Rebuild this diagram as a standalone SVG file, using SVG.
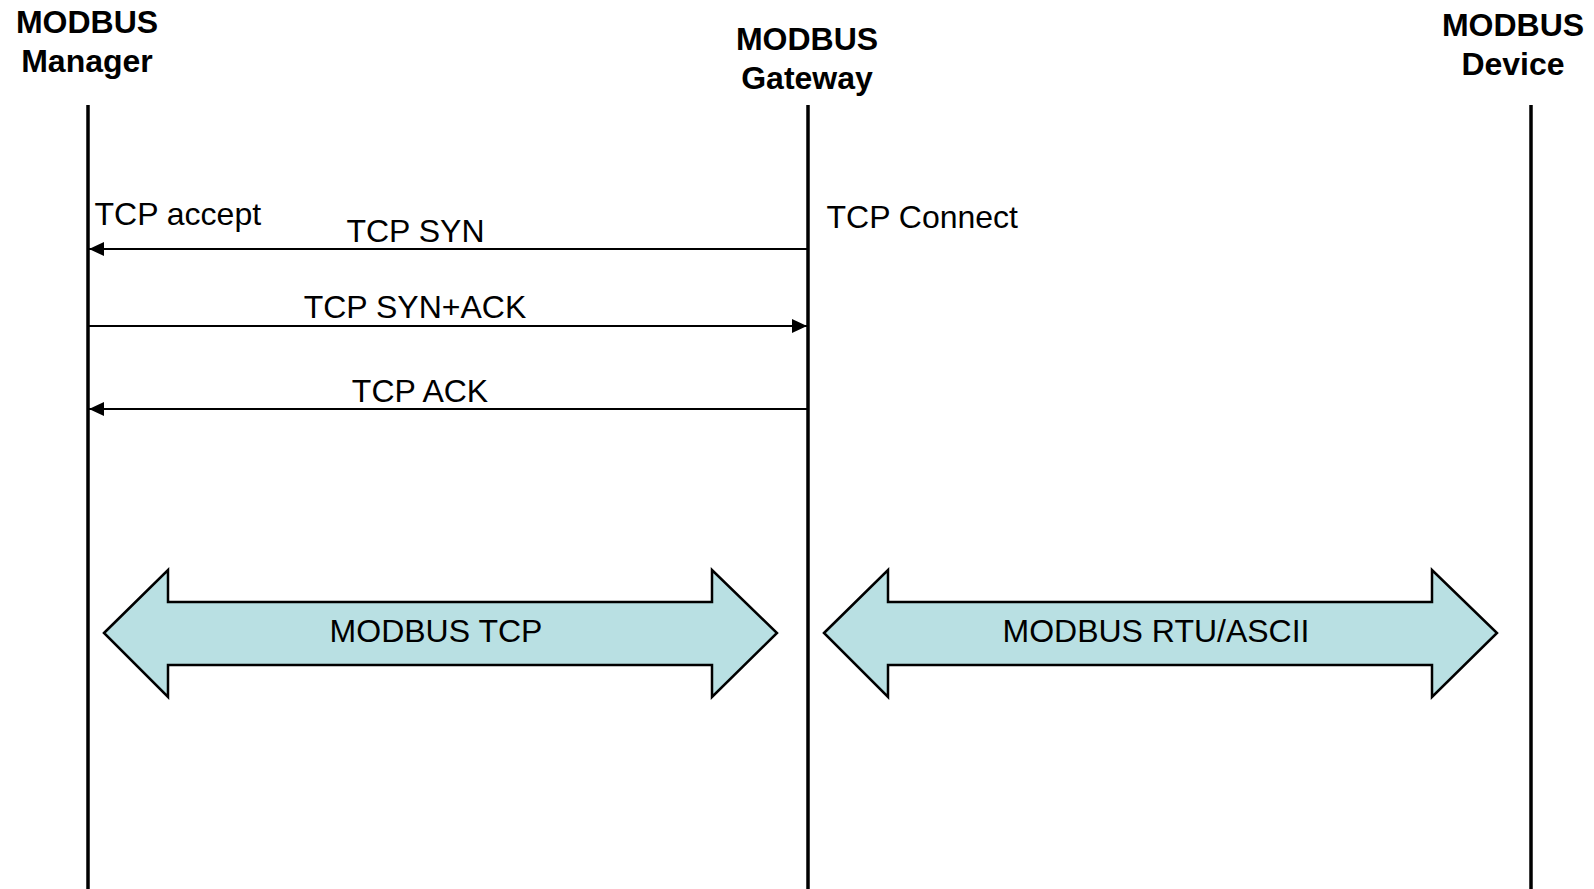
<svg xmlns="http://www.w3.org/2000/svg" width="1594" height="889" viewBox="0 0 1594 889">
<style>
.hdr{font-family:"Liberation Sans",Arial,sans-serif;font-weight:bold;font-size:32px;fill:#000;text-anchor:middle}
.lbl{font-family:"Liberation Sans",Arial,sans-serif;font-size:32px;fill:#000}
.mid{text-anchor:middle}
.life{stroke:#000;stroke-width:3.5;fill:none}
.msg{stroke:#000;stroke-width:2.2;fill:none}
.block{fill:#B9E0E3;stroke:#000;stroke-width:2.5;stroke-linejoin:miter}
</style>
<defs>
<marker id="ah" viewBox="0 0 15 14" refX="15" refY="7" markerWidth="15" markerHeight="14" markerUnits="userSpaceOnUse" orient="auto">
<path d="M0,0 L15,7 L0,14 Z" fill="#000"/>
</marker>
</defs>
<rect width="1594" height="889" fill="#fff"/>
<g id="manager">
<text class="hdr" x="87" y="33">MODBUS</text>
<text class="hdr" x="87" y="72">Manager</text>
<line class="life" x1="88" y1="105" x2="88" y2="889"/>
<text class="lbl" x="94.5" y="225">TCP accept</text>
</g>
<g id="gateway">
<text class="hdr" x="807" y="50">MODBUS</text>
<text class="hdr" x="807" y="89">Gateway</text>
<line class="life" x1="808" y1="105" x2="808" y2="889"/>
<text class="lbl" x="826.5" y="228">TCP Connect</text>
</g>
<g id="device">
<text class="hdr" x="1513" y="36">MODBUS</text>
<text class="hdr" x="1513" y="75">Device</text>
<line class="life" x1="1531" y1="105" x2="1531" y2="889"/>
</g>
<g id="connectors">
<line class="msg" x1="807" y1="249" x2="89" y2="249" marker-end="url(#ah)"/>
<text class="lbl mid" x="415.5" y="242">TCP SYN</text>
<line class="msg" x1="89" y1="326" x2="807" y2="326" marker-end="url(#ah)"/>
<text class="lbl mid" x="415" y="318">TCP SYN+ACK</text>
<line class="msg" x1="807" y1="409" x2="89" y2="409" marker-end="url(#ah)"/>
<text class="lbl mid" x="420" y="402">TCP ACK</text>
</g>
<g id="modbus-tcp">
<polygon class="block" points="104,633 168,570 168,602 712,602 712,570 777,633 712,697 712,665 168,665 168,697"/>
<text class="lbl mid" x="436" y="642">MODBUS TCP</text>
</g>
<g id="modbus-rtu">
<polygon class="block" points="824,633 888,570 888,602 1432,602 1432,570 1497,633 1432,697 1432,665 888,665 888,697"/>
<text class="lbl mid" x="1156" y="642">MODBUS RTU/ASCII</text>
</g>
</svg>
